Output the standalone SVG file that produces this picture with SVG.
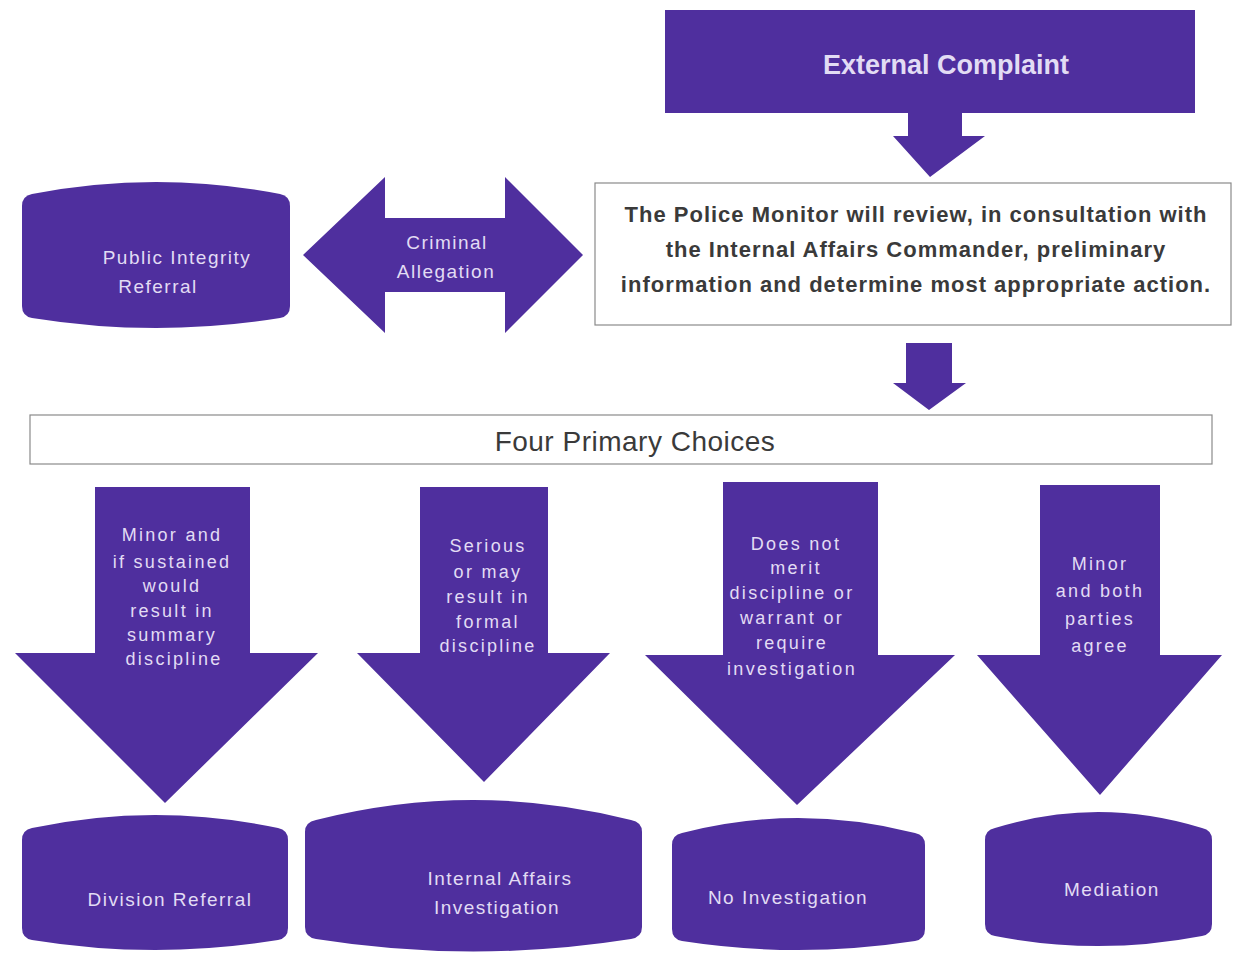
<svg xmlns="http://www.w3.org/2000/svg" width="1233" height="954" viewBox="0 0 1233 954">
<style>
.p{fill:#4f2f9e}
.lt{fill:#e2dcf4;font-family:"Liberation Sans",Arial,sans-serif;text-anchor:middle}
.nl{font-size:19px;letter-spacing:1.5px}
.al{font-size:18px;letter-spacing:2.3px}
.box{fill:#ffffff;stroke:#8a8a8a;stroke-width:1.2}
.dk{fill:#3a3a3a;font-family:"Liberation Sans",Arial,sans-serif;text-anchor:middle}
</style>
<rect width="1233" height="954" fill="#ffffff"/>
<g id="external-complaint">
<rect class="p" x="665" y="10" width="530" height="103"/>
<text class="lt" x="946" y="74" font-size="27" font-weight="bold">External Complaint</text>
</g>
<g id="police-monitor">
<rect class="box" x="595" y="183" width="636" height="142"/>
<text class="dk" x="916" y="222" font-size="22" font-weight="bold" letter-spacing="1">The Police Monitor will review, in consultation with</text>
<text class="dk" x="916" y="257" font-size="22" font-weight="bold" letter-spacing="1">the Internal Affairs Commander, preliminary</text>
<text class="dk" x="916" y="292" font-size="22" font-weight="bold" letter-spacing="1">information and determine most appropriate action.</text>
</g>
<g id="public-integrity-referral">
<path class="p" d="M22,206 Q22,196 32,194 Q156,170 280,194 Q290,196 290,206 L290,306 Q290,316 280,318 Q156,338 32,318 Q22,316 22,306 Z"/>
<text class="lt nl" x="177" y="264">Public Integrity</text>
<text class="lt nl" x="158" y="293">Referral</text>
</g>
<g id="four-primary-choices">
<rect class="box" x="30" y="415" width="1182" height="49"/>
<text class="dk" x="635" y="451" font-size="28" letter-spacing="0.5" fill="#444">Four Primary Choices</text>
</g>
<g id="division-referral">
<path class="p" d="M22,840 Q22,830 32,828 Q155,802 278,828 Q288,830 288,840 L288,928 Q288,938 278,940 Q155,960 32,940 Q22,938 22,928 Z"/>
<text class="lt nl" x="170" y="906">Division Referral</text>
</g>
<g id="internal-affairs-investigation">
<path class="p" d="M305,832 Q305,822 316,820 Q473,780 631,820 Q642,822 642,832 L642,927 Q642,937 631,939 Q473,964 316,939 Q305,937 305,927 Z"/>
<text class="lt nl" x="500" y="885">Internal Affairs</text>
<text class="lt nl" x="497" y="914">Investigation</text>
</g>
<g id="no-investigation">
<path class="p" d="M672,845 Q672,835 682,833 Q798,803 915,833 Q925,835 925,845 L925,929 Q925,939 915,941 Q798,959 682,941 Q672,939 672,929 Z"/>
<text class="lt nl" x="788" y="904">No Investigation</text>
</g>
<g id="mediation">
<path class="p" d="M985,840 Q985,830 995,828 Q1098,796 1202,828 Q1212,830 1212,840 L1212,924 Q1212,934 1202,936 Q1098,956 995,936 Q985,934 985,924 Z"/>
<text class="lt nl" x="1112" y="896">Mediation</text>
</g>
<g id="connectors">
<path class="p" d="M908,113 L962,113 L962,136 L985,136 L930,177 L893,136 L908,136 Z"/>
<path class="p" d="M906,343 L952,343 L952,383 L966,383 L929,410 L893,383 L906,383 Z"/>
<g id="criminal-allegation">
<path class="p" d="M303,255 L385,177 L385,218 L505,218 L505,177 L583,255 L505,333 L505,292 L385,292 L385,333 Z"/>
<text class="lt nl" x="447" y="249">Criminal</text>
<text class="lt nl" x="446" y="278">Allegation</text>
</g>
<g id="choice-1">
<path class="p" d="M95,487 L250,487 L250,653 L318,653 L165,803 L15,653 L95,653 Z"/>
<g class="lt al">
<text x="172" y="541">Minor and</text>
<text x="172" y="568">if sustained</text>
<text x="172" y="592">would</text>
<text x="172" y="617">result in</text>
<text x="172" y="641">summary</text>
<text x="174" y="665">discipline</text>
</g>
</g>
<g id="choice-2">
<path class="p" d="M420,487 L548,487 L548,653 L610,653 L484,782 L357,653 L420,653 Z"/>
<g class="lt al">
<text x="488" y="552">Serious</text>
<text x="488" y="578">or may</text>
<text x="488" y="603">result in</text>
<text x="488" y="628">formal</text>
<text x="488" y="652">discipline</text>
</g>
</g>
<g id="choice-3">
<path class="p" d="M723,482 L878,482 L878,655 L955,655 L797,805 L645,655 L723,655 Z"/>
<g class="lt al">
<text x="796" y="550">Does not</text>
<text x="796" y="574">merit</text>
<text x="792" y="599">discipline or</text>
<text x="792" y="624">warrant or</text>
<text x="792" y="649">require</text>
<text x="792" y="675">investigation</text>
</g>
</g>
<g id="choice-4">
<path class="p" d="M1040,485 L1160,485 L1160,655 L1222,655 L1100,795 L977,655 L1040,655 Z"/>
<g class="lt al">
<text x="1100" y="570">Minor</text>
<text x="1100" y="597">and both</text>
<text x="1100" y="625">parties</text>
<text x="1100" y="652">agree</text>
</g>
</g>
</g>
</svg>
